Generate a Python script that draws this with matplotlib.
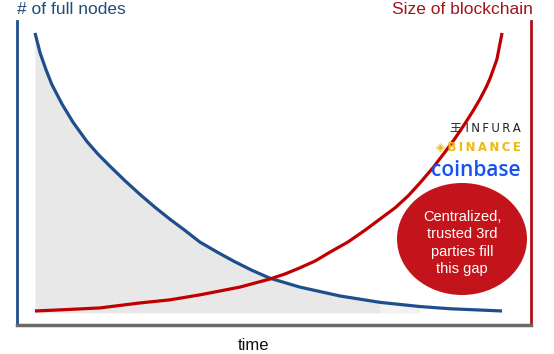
import matplotlib.pyplot as plt
from matplotlib.patches import Ellipse
import numpy as np

# time axis 0..100, values 0..100
t_nodes = np.array([0, 1.1, 2.4, 3.6, 5.8, 8.1, 11.1, 13.5, 16.1, 19.3, 22.5, 25.7, 28.9, 32.1, 35.3,
                    39.2, 42.8, 46.5, 50.3, 56.7, 65.3, 73.9, 82.4, 88.9, 100])
nodes = np.array([100, 92.8, 86.6, 81.5, 74.4, 68.0, 61.0, 56.4, 52.0, 46.8, 41.9, 37.3, 33.0, 29.0, 24.8,
                  21.0, 17.7, 14.6, 11.8, 8.6, 5.4, 3.1, 1.6, 0.8, 0])

t_chain = np.array([0, 5.4, 13.9, 22.5, 28.9, 35.3, 39.6, 43.9, 50.3, 53.5, 56.7, 60.0, 63.2, 67.0, 70.7,
                    73.9, 77.1, 79.9, 82.4, 85.2, 87.8, 89.9, 92.1, 93.8, 95.3, 96.6, 97.4, 98.9, 100])
chain = np.array([0, 0.4, 1.1, 2.9, 4.0, 5.8, 7.2, 8.6, 11.5, 13.3, 15.5, 18.0, 21.2, 24.8, 29.1,
                  33.1, 37.1, 41.4, 46.0, 51.5, 57.2, 62.0, 67.5, 72.0, 76.3, 80.5, 83.5, 90.5, 100])

left_label = '# of full nodes'
right_label = 'Size of blockchain'
x_label = 'time'
bubble_text = 'Centralized,\ntrusted 3rd\nparties fill\nthis gap'

blue = '#1f4e8c'
red = '#c00000'

plt.rcParams['font.family'] = ['Liberation Sans', 'DejaVu Sans', 'Noto Sans CJK SC']

W, H = 554, 354
fig = plt.figure(figsize=(W / 100, H / 100), dpi=100)
ax = fig.add_axes([17 / W, 1 - 325 / H, (531 - 17) / W, (325 - 21) / H])
ax.set_xlim(-3.85, 106.2)
ax.set_ylim(-5.04, 104.3)

# grey area under the node curve
base = -0.7
m1 = t_nodes <= 73.9
ax.fill_between(t_nodes[m1], nodes[m1], base, color='#e8e8e8', lw=0)
m2 = (t_nodes >= 73.9) & (t_nodes <= 82.4)
ax.fill_between(t_nodes[m2], nodes[m2], base, color='#f2f2f2', lw=0)

ax.plot(t_nodes, nodes, c=blue, lw=2.3, solid_capstyle='butt', solid_joinstyle='round', zorder=3)
ax.plot(t_chain, chain, c=red, lw=2.3, solid_capstyle='butt', solid_joinstyle='round', zorder=3)

ax.spines['top'].set_visible(False)
ax.spines['left'].set_color(blue)
ax.spines['left'].set_linewidth(2)
ax.spines['right'].set_color('#b0101a')
ax.spines['right'].set_linewidth(2)
ax.spines['bottom'].set_color('#6a6a6a')
ax.spines['bottom'].set_linewidth(2.5)
ax.set_xticks([])
ax.set_yticks([])

fig.text(17 / W, 1 - 9 / H, left_label, color='#1f4e79', fontsize=12.5, ha='left', va='center')
fig.text(533 / W, 1 - 9 / H, right_label, color='#a3141c', fontsize=12.5, ha='right', va='center')
fig.text(253 / W, 1 - 346 / H, x_label, color='#111111', fontsize=12, ha='center', va='center')

# bubble
fig.patches.append(Ellipse((462 / W, 1 - 239 / H), 130 / W, 112 / H, transform=fig.transFigure,
                           facecolor='#c4141b', edgecolor='none', zorder=5))
fig.text(462 / W, 1 - 243 / H, bubble_text, color='white', fontsize=10.5, ha='center', va='center',
         linespacing=1.3, zorder=6)

# logos as text
ts = '\u2009'
fig.text(521 / W, 1 - 128 / H, '王 ' + ts.join('INFURA'), color='#222222', fontsize=8.5, ha='right',
         va='center', family=['DejaVu Sans', 'Noto Sans CJK SC'])
fig.text(521 / W, 1 - 147 / H, '◈' + ts + ts.join('BINANCE'), color='#f0b90b', fontsize=8.5,
         fontweight='bold', ha='right', va='center', family=['DejaVu Sans'])
fig.text(521 / W, 1 - 170 / H, 'coinbase', color='#1652f0', fontsize=15, ha='right', va='center',
         family=['Open Sans'], fontweight='semibold')

plt.savefig('out.png', dpi=100)
